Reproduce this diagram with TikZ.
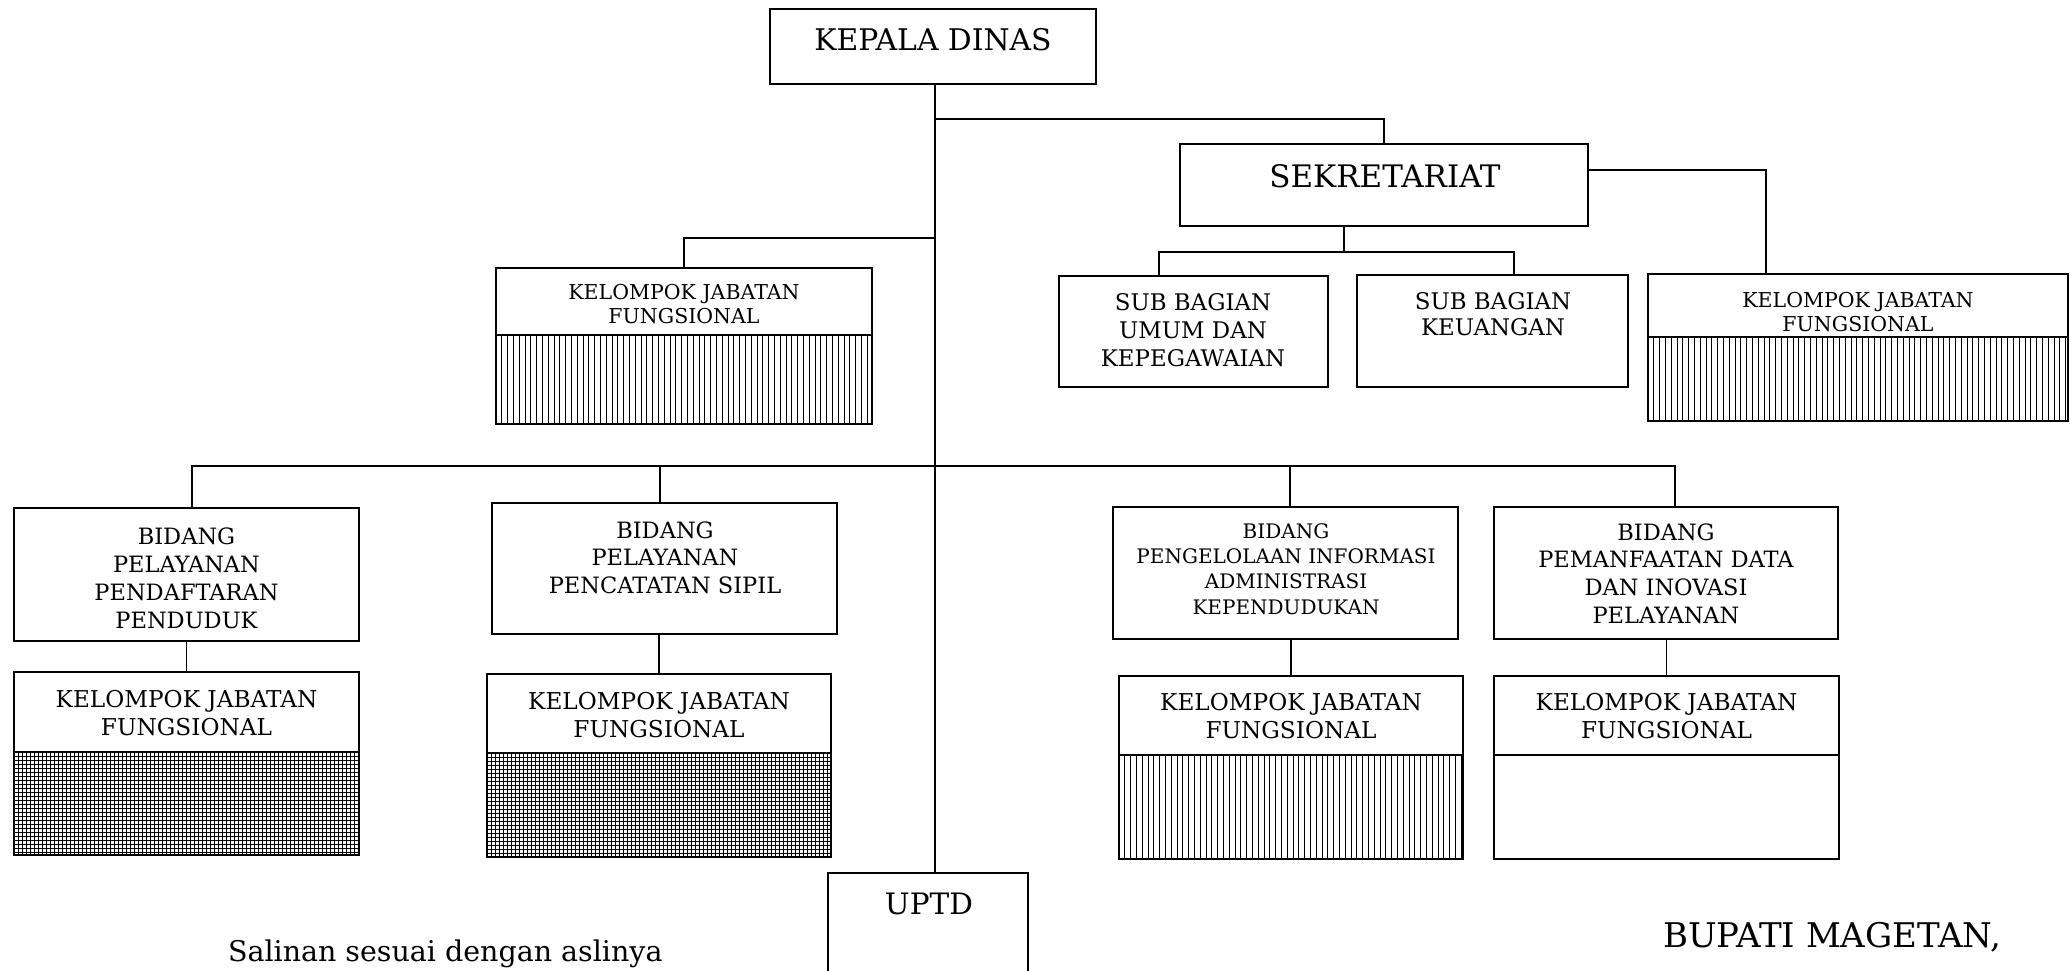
\documentclass[tikz,border=0pt]{standalone}
\usepackage{fontspec}
\setmainfont{DejaVu Serif}
\usetikzlibrary{calc}
\tikzset{
  box/.style={draw, line width=1.8pt, inner sep=0pt, outer sep=0pt, anchor=north west},
  conn/.style={line width=1.6pt},
  hl/.style={line width=0.8pt},
  lbl/.style={align=center, inner sep=0pt, outer sep=0pt},
}
\newcommand\mybx[5]{\node[box, minimum width={(#4-#2)*1pt}, minimum height={(#5-#3)*1pt}] (#1) at (#2,#3) {};}
\newcommand\myvhatch[4]{%
  \begin{scope}
    \clip (#1,#2) rectangle (#3,#4);
    \pgfmathtruncatemacro\nn{(#3-#1)/5.8}
    \foreach \i in {1,...,\nn} \draw[hl] (#1+\i*5.8,#2) -- (#1+\i*5.8,#4);
  \end{scope}}
\newcommand\mygrid[4]{%
  \begin{scope}
    \clip (#1,#2) rectangle (#3,#4);
    \pgfmathtruncatemacro\nn{(#3-#1)/4}
    \pgfmathtruncatemacro\mm{(#4-#2)/4}
    \foreach \i in {1,...,\nn} \draw[hl] (#1+\i*4,#2) -- (#1+\i*4,#4);
    \foreach \j in {1,...,\mm} \draw[hl] (#1,#2+\j*4) -- (#3,#2+\j*4);
  \end{scope}}
\begin{document}
\begin{tikzpicture}[x=1pt,y=-1pt]
\useasboundingbox (0,0) rectangle (2070,971);
\clip (0,0) rectangle (2070,971);
% hatching
\myvhatch{496}{335}{872}{424}
\myvhatch{1648}{337}{2068}{421}
\myvhatch{1119}{755}{1463}{859}
\mygrid{14}{752}{359}{855}
\mygrid{487}{753}{831}{857}
% boxes
\mybx{kd}{770}{9}{1096}{84}
\mybx{sek}{1180}{144}{1588}{226}
\mybx{kjf0t}{496}{268}{872}{335}
\mybx{kjf0b}{496}{335}{872}{424}
\mybx{sub1}{1059}{276}{1328}{387}
\mybx{sub2}{1357}{275}{1628}{387}
\mybx{kjfRt}{1648}{274}{2068}{337}
\mybx{kjfRb}{1648}{337}{2068}{421}
\mybx{b1}{14}{508}{359}{641}
\mybx{b2}{492}{503}{837}{634}
\mybx{b3}{1113}{507}{1458}{639}
\mybx{b4}{1494}{507}{1838}{639}
\mybx{k1t}{14}{672}{359}{752}
\mybx{k1b}{14}{752}{359}{855}
\mybx{k2t}{487}{674}{831}{753}
\mybx{k2b}{487}{753}{831}{857}
\mybx{k3t}{1119}{676}{1463}{755}
\mybx{k3b}{1119}{755}{1463}{859}
\mybx{k4t}{1494}{676}{1839}{755}
\mybx{k4b}{1494}{755}{1839}{859}
\mybx{uptd}{828}{873}{1028}{990}
% labels
\node[lbl, font=\fontsize{29.8}{34}\selectfont] (kdT) at (933,40) {KEPALA DINAS};
\node[lbl, font=\fontsize{31}{34}\selectfont] (sekT) at (1385,176) {SEKRETARIAT};
\node[lbl, font=\fontsize{20.5}{24}\selectfont] (kjf0T) at (684,304) {KELOMPOK JABATAN\\FUNGSIONAL};
\node[lbl, font=\fontsize{20.5}{24}\selectfont] (kjfRT) at (1858,312) {KELOMPOK JABATAN\\FUNGSIONAL};
\node[lbl, font=\fontsize{22.9}{28}\selectfont] (sub1T) at (1193,330) {SUB BAGIAN\\UMUM DAN\\KEPEGAWAIAN};
\node[lbl, font=\fontsize{22.9}{26}\selectfont] (sub2T) at (1493,314) {SUB BAGIAN\\KEUANGAN};
\node[lbl, font=\fontsize{22.5}{28}\selectfont] (b1T) at (186.5,578) {BIDANG\\PELAYANAN\\PENDAFTARAN\\PENDUDUK};
\node[lbl, font=\fontsize{22.5}{27.7}\selectfont] (b2T) at (665,557.7) {BIDANG\\PELAYANAN\\PENCATATAN SIPIL};
\node[lbl, font=\fontsize{20}{25.3}\selectfont] (b3T) at (1286,569) {BIDANG\\PENGELOLAAN INFORMASI\\ADMINISTRASI\\KEPENDUDUKAN};
\node[lbl, font=\fontsize{22.5}{27.7}\selectfont] (b4T) at (1666,573.5) {BIDANG\\PEMANFAATAN DATA\\DAN INOVASI\\PELAYANAN};
\node[lbl, font=\fontsize{23.2}{28}\selectfont] (k1T) at (186.5,713) {KELOMPOK JABATAN\\FUNGSIONAL};
\node[lbl, font=\fontsize{23.2}{28}\selectfont] (k2T) at (659,715) {KELOMPOK JABATAN\\FUNGSIONAL};
\node[lbl, font=\fontsize{23.2}{28}\selectfont] (k3T) at (1291,716.5) {KELOMPOK JABATAN\\FUNGSIONAL};
\node[lbl, font=\fontsize{23.2}{28}\selectfont] (k4T) at (1666.5,716) {KELOMPOK JABATAN\\FUNGSIONAL};
\node[lbl, font=\fontsize{29.5}{34}\selectfont] (uptdT) at (929,904) {UPTD};
\node[lbl, anchor=base west, font=\fontsize{28.5}{32}\selectfont] (sal) at (228,961) {Salinan sesuai dengan aslinya};
\node[lbl, anchor=base west, font=\fontsize{34}{38}\selectfont] (bup) at (1663,947) {BUPATI MAGETAN,};
% connectors
\coordinate (tr) at (935,0);
\draw[conn] (kd.south -| tr) -- (uptd.north -| tr);
\coordinate (js) at (935,119);
\draw[conn] (js) -| (sek.north);
\coordinate (jk) at (935,238);
\draw[conn] (jk) -| (kjf0t.north);
\coordinate (sd) at (1344,252);
\draw[conn] (sek.south -| sd) -- (sd);
\coordinate (s1) at (1159,252);
\coordinate (s2) at (1514,252);
\draw[conn] (s1 |- sub1.north) -- (s1) -- (s2) -- (s2 |- sub2.north);
\coordinate (se) at (1766,170);
\draw[conn] (sek.east |- se) -- (se) -- (se |- kjfRt.north);
\coordinate (u1) at (192,466);
\coordinate (u2) at (660,466);
\coordinate (u3) at (1290,466);
\coordinate (u4) at (1675,466);
\draw[conn] (u1 |- b1.north) -- (u1) -- (u4) -- (u4 |- b4.north);
\draw[conn] (u2) -- (u2 |- b2.north);
\draw[conn] (u3) -- (u3 |- b3.north);
\draw[conn] (k1t.north |- b1.south) -- (k1t.north);
\draw[conn] (k2t.north |- b2.south) -- (k2t.north);
\draw[conn] (k3t.north |- b3.south) -- (k3t.north);
\draw[conn] (k4t.north |- b4.south) -- (k4t.north);
\end{tikzpicture}
\end{document}
